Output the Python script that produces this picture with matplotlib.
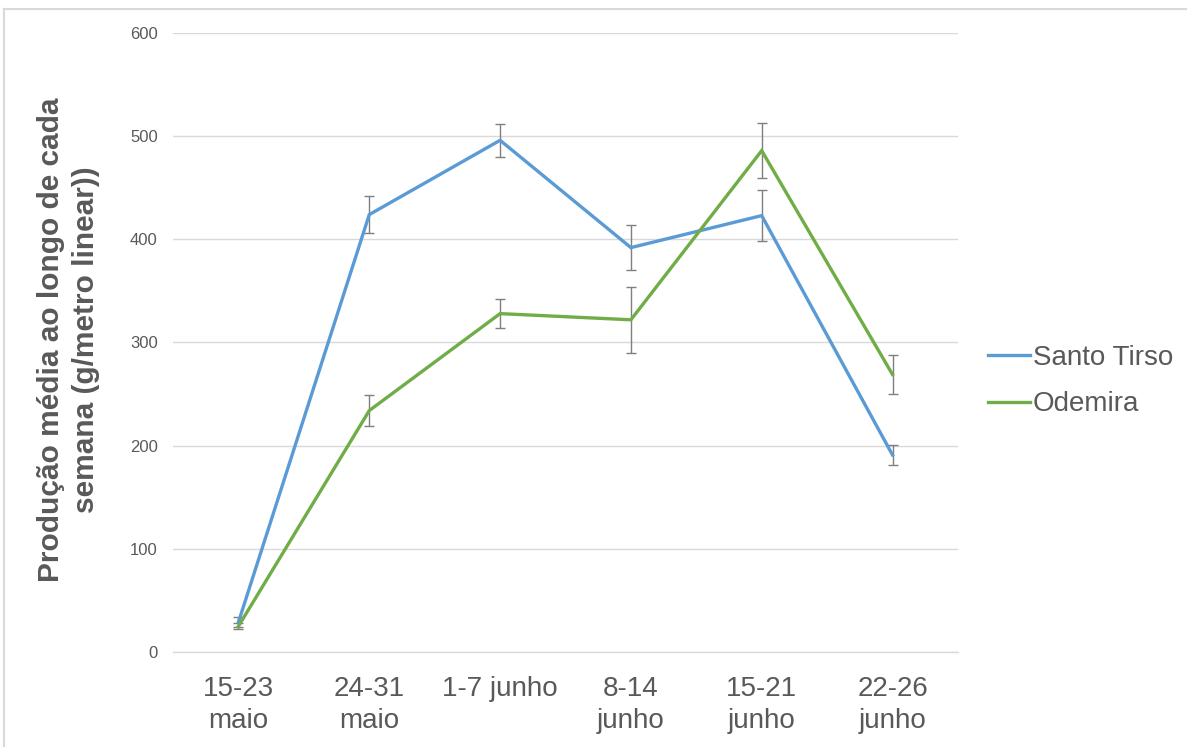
import matplotlib
matplotlib.use("Agg")
import matplotlib.pyplot as plt
from matplotlib.lines import Line2D
import numpy as np

plt.rcParams['font.family'] = ['Liberation Sans', 'DejaVu Sans']

weeks = ["15-23\nmaio", "24-31\nmaio", "1-7 junho", "8-14\njunho", "15-21\njunho", "22-26\njunho"]
santo_tirso = [29, 424, 496, 392, 423, 191]
santo_tirso_err = [5, 18, 16, 22, 25, 10]
odemira = [25, 234, 328, 322, 486, 269]
odemira_err = [3, 15, 14, 32, 27, 19]
yticks = [0, 100, 200, 300, 400, 500, 600]

text_grey = "#595959"
grid_grey = "#d9d9d9"
blue = "#5b9bd5"
green = "#70ad47"
err_grey = "#7f7f7f"

fig = plt.figure(figsize=(11.87, 7.47), dpi=100)
ax = fig.add_axes([0.1458, 0.1272, 0.807 - 0.1458, 0.9558 - 0.1272])

x = np.arange(len(weeks))
for vals, errs, col, name in [(santo_tirso, santo_tirso_err, blue, "Santo Tirso"),
                              (odemira, odemira_err, green, "Odemira")]:
    ax.errorbar(x, vals, yerr=errs, fmt='none', ecolor=err_grey, elinewidth=1.0,
                capsize=3.5, capthick=1.0, zorder=2)
    ax.plot(x, vals, color=col, lw=2.4, label=name, zorder=3, solid_joinstyle='miter')

ax.set_xlim(-0.5, len(weeks) - 0.5)
ax.set_ylim(0, 600)
ax.set_yticks(yticks)
ax.set_xticks(x)
ax.set_xticklabels(weeks, fontsize=20, color=text_grey, linespacing=1.3)
ax.tick_params(axis='y', labelsize=12, labelcolor=text_grey, length=0, pad=11)
ax.tick_params(axis='x', length=0, pad=17)
ax.yaxis.grid(True, color=grid_grey, lw=1.0)
ax.set_axisbelow(True)
for s in ["top", "right", "left"]:
    ax.spines[s].set_visible(False)
ax.spines["bottom"].set_color(grid_grey)
ax.spines["bottom"].set_linewidth(1.0)

fig.text(0.0577, 0.545, "Produção média ao longo de cada\nsemana (g/metro linear))",
         rotation=90, ha='center', va='center', fontsize=21.5, fontweight='bold',
         color=text_grey, linespacing=1.3)

leg = ax.legend(loc='center left', bbox_to_anchor=(988 / 1187, 1 - 381 / 747),
                bbox_transform=fig.transFigure, frameon=False, fontsize=20,
                handlelength=1.5, handletextpad=0.12, labelspacing=0.75,
                borderpad=0, borderaxespad=0)
for t in leg.get_texts():
    t.set_color(text_grey)

# outer chart frame
fig.add_artist(Line2D([4 / 1187, 1], [1 - 9 / 747, 1 - 9 / 747], transform=fig.transFigure,
                      color=grid_grey, lw=1.5))
fig.add_artist(Line2D([4 / 1187, 4 / 1187], [0, 1 - 9 / 747], transform=fig.transFigure,
                      color=grid_grey, lw=1.5))

fig.savefig("out.png", dpi=100)
